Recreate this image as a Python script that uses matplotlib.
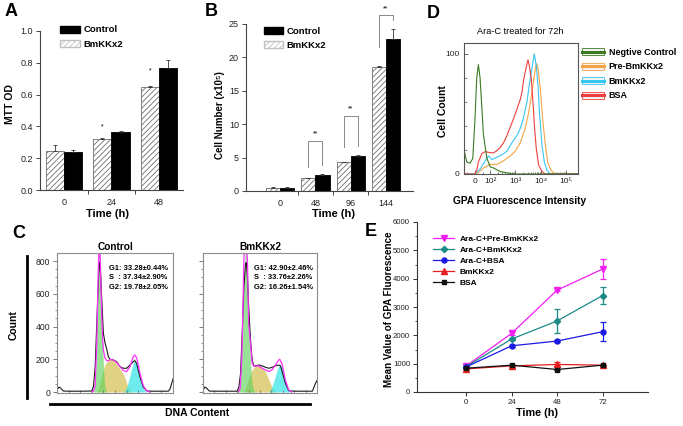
import matplotlib
matplotlib.use('Agg')
import matplotlib.pyplot as plt
import numpy as np
from matplotlib.patches import Patch
from matplotlib.lines import Line2D
from matplotlib.ticker import FixedLocator, MultipleLocator, FormatStrFormatter, NullFormatter

plt.rcParams['font.family'] = ['Liberation Sans', 'DejaVu Sans']
plt.rcParams['hatch.linewidth'] = 0.6
plt.rcParams['axes.linewidth'] = 0.8

# ---------------- data ----------------
# Panel A (MTT OD)
a_times = ['0', '24', '48']
a_bm = [0.245, 0.32, 0.65]
a_bm_err = [0.035, 0.004, 0.005]
a_ctrl = [0.24, 0.365, 0.765]
a_ctrl_err = [0.01, 0.006, 0.05]
a_star_y = [None, 0.40, 0.75]

# Panel B (cell number)
b_times = ['0', '48', '96', '144']
b_bm = [0.5, 1.9, 4.3, 18.5]
b_bm_err = [0.05, 0.1, 0.1, 0.25]
b_ctrl = [0.5, 2.4, 5.3, 22.8]
b_ctrl_err = [0.05, 0.12, 0.1, 1.5]
b_sig_groups = [1, 2, 3]
b_sig_top = [7.5, 11.3, 26.3]
b_sig_left_bottom = [3.6, 6.6, 21.6]
b_sig_right_bottom = [3.9, 6.8, 25.6]

# Panel C (cell cycle histograms), x = DNA content channel, y = count
c1_black_x = [0, 15, 30, 55, 100, 200, 300, 314, 329, 343, 357, 366, 371, 377, 386, 400, 414, 429, 443, 457,
              486, 514, 543, 571, 600, 629, 657, 671, 686, 714, 743, 771, 800, 900, 960, 975, 994, 1000]
c1_black_y = [10, 30, 25, 6, 5, 5, 6, 32, 155, 420, 685, 790, 790, 700, 562, 358, 300, 260, 216, 200,
              196, 185, 155, 145, 145, 165, 185, 192, 175, 95, 32, 8, 5, 5, 5, 20, 65, 80]
c1_fit_x = [300, 314, 329, 343, 350, 357, 362, 370, 377, 386, 393, 400, 414, 429, 443, 457, 486, 514, 543,
            571, 600, 629, 657, 671, 686, 700, 714, 743, 771, 800]
c1_fit_y = [0, 5, 40, 300, 550, 780, 900, 900, 700, 460, 330, 257, 206, 192, 192, 198, 196, 180, 155,
            131, 125, 155, 216, 226, 210, 170, 118, 40, 8, 0]
c1_g1_x = [314, 329, 336, 343, 350, 357, 364, 371, 378, 386, 393, 400, 407, 414, 429]
c1_g1_y = [0, 60, 180, 380, 600, 800, 880, 870, 720, 500, 300, 160, 70, 25, 0]
c1_s_x = [343, 357, 371, 386, 400, 414, 429, 443, 457, 471, 486, 500, 514, 529, 543, 557, 571, 586, 600, 614, 629, 643]
c1_s_y = [0, 20, 55, 100, 140, 170, 185, 195, 198, 197, 192, 183, 170, 155, 140, 125, 110, 85, 55, 25, 5, 0]
c1_g2_x = [571, 586, 600, 614, 629, 643, 657, 671, 686, 700, 714, 729, 743, 757, 771]
c1_g2_y = [0, 10, 30, 60, 100, 140, 175, 192, 180, 145, 100, 55, 25, 8, 0]

c2_black_x = [0, 15, 30, 55, 100, 200, 300, 315, 329, 344, 359, 373, 380, 388, 402, 417, 431, 446, 461, 490,
              519, 548, 577, 606, 636, 665, 680, 694, 723, 752, 800, 900, 960, 985, 1000]
c2_black_y = [10, 30, 25, 6, 5, 5, 5, 32, 110, 358, 643, 785, 790, 725, 500, 317, 196, 160, 160, 165,
              160, 151, 145, 151, 160, 165, 160, 125, 53, 8, 5, 5, 5, 50, 70]
c2_fit_x = [310, 325, 340, 350, 358, 366, 380, 390, 400, 417, 431, 446, 490, 519, 548, 577, 606, 636, 665,
            673, 694, 723, 752, 780]
c2_fit_y = [0, 20, 200, 500, 800, 900, 900, 800, 420, 293, 177, 157, 160, 145, 135, 125, 135, 165, 196,
            200, 171, 73, 12, 0]
c2_g1_x = [300, 315, 329, 344, 359, 366, 373, 381, 388, 395, 402, 410, 417, 424, 431, 446, 461]
c2_g1_y = [0, 30, 100, 330, 640, 800, 880, 880, 800, 640, 480, 320, 190, 100, 45, 10, 0]
c2_s_x = [359, 373, 388, 402, 417, 431, 446, 461, 475, 490, 504, 519, 533, 548, 563, 577, 592, 606, 621, 636, 650]
c2_s_y = [0, 20, 50, 85, 115, 135, 150, 158, 162, 162, 158, 150, 138, 122, 100, 75, 50, 28, 12, 3, 0]
c2_g2_x = [577, 592, 606, 621, 636, 650, 665, 679, 694, 708, 723, 737, 752, 766, 781]
c2_g2_y = [0, 12, 35, 65, 100, 135, 160, 165, 150, 115, 75, 40, 15, 3, 0]

c1_stats = ['G1: 33.28\u00b10.44%', 'S  : 37.34\u00b12.90%', 'G2: 19.78\u00b12.05%']
c2_stats = ['G1: 42.90\u00b12.46%', 'S  : 33.76\u00b12.26%', 'G2: 16.26\u00b11.54%']

# Panel D (GPA flow histograms), x = fluorescence intensity, y = cell count
d_neg_x = [-73, -55, -33, -15, 0, 11, 22, 33, 45, 55, 78, 100, 135, 250, 460, 820, 3900, 300000]
d_neg_y = [20, 10, 9, 13, 47, 80, 91, 80, 55, 33, 13, 6, 5, 2, 1, 0, 0, 0]
d_bsa_x = [-73, 0, 11, 22, 45, 67, 89, 135, 184, 249, 337, 460, 622, 841, 1148, 1550, 1811, 2096, 2612, 3133,
           3631, 4238, 4947, 5728, 6686, 8260, 11270, 15240, 300000]
d_bsa_y = [0, 0, 3, 10, 17, 18.6, 18, 17.5, 19.5, 22, 26, 32, 39, 46, 54, 62, 68, 78, 88, 95,
           89, 79, 60, 38, 21, 7.5, 2, 0, 0]
d_bm_x = [-73, 0, 33, 67, 89, 117, 184, 291, 460, 726, 1148, 1550, 2096, 2860, 3631, 4519, 5572, 6686, 7814,
          9040, 11270, 13900, 17780, 24040, 300000]
d_bm_y = [0, 0, 4, 11, 15, 12, 14, 16, 19, 26, 32, 38, 47, 60, 76, 88, 100, 90, 74,
          49, 24, 10, 3, 0, 0]
d_pre_x = [-73, 11, 55, 100, 184, 337, 622, 982, 1550, 2447, 3311, 4519, 5572, 6686, 7814, 9640, 11890, 15240,
           18790, 25650, 37950, 300000]
d_pre_y = [0, 0, 5, 8, 8, 11, 15, 19, 26, 38, 51, 68, 82, 92, 88, 71, 46, 24,
           10, 3, 0, 0]
d_labels = ['Negtive Control', 'Pre-BmKKx2', 'BmKKx2', 'BSA']
d_colors = ['#3d7a1f', '#f5a445', '#36c6f2', '#ee3f3f']

# Panel E (mean GPA fluorescence)
e_times = [0, 24, 48, 72]
e_labels = ['Ara-C+Pre-BmKKx2', 'Ara-C+BmKKx2', 'Ara-C+BSA', 'BmKKx2', 'BSA']
e_pre = [920, 2070, 3595, 4340]
e_pre_err = [40, 50, 40, 355]
e_bm_arac = [900, 1870, 2507, 3404]
e_bm_arac_err = [40, 40, 440, 290]
e_bsa_arac = [887, 1631, 1798, 2128]
e_bsa_arac_err = [30, 30, 30, 330]
e_bm = [816, 922, 972, 947]
e_bm_err = [20, 30, 70, 30]
e_bsa = [840, 947, 794, 947]
e_bsa_err = [20, 20, 20, 20]

# ---------------- figure ----------------
W, H = 683, 426
fig = plt.figure(figsize=(W / 100, H / 100), dpi=100)


def axes_px(x0, y0, x1, y1):
    return fig.add_axes([x0 / W, 1 - y1 / H, (x1 - x0) / W, (y1 - y0) / H])


def ftext(x, y, s, **kw):
    kw.setdefault('ha', 'center')
    kw.setdefault('va', 'center')
    fig.text(x / W, 1 - y / H, s, **kw)


TICKC = '#222222'
HATCH_EDGE = '#6e6e6e'
err_kw = dict(ecolor='#333333', elinewidth=0.6, capsize=1.5, capthick=0.6)


def bar_panel(ax, cats, bm, bm_err, ctrl, ctrl_err, w):
    x = np.arange(len(cats))
    ax.bar(x - w / 2, bm, w, color='white', edgecolor=HATCH_EDGE, hatch='//////', lw=0.6,
           yerr=[np.zeros(len(cats)), bm_err], error_kw=err_kw, label='BmKKx2')
    ax.bar(x + w / 2, ctrl, w, color='black', edgecolor='black', lw=0.6,
           yerr=[np.zeros(len(cats)), ctrl_err], error_kw=err_kw, label='Control')
    for s in ['top', 'right']:
        ax.spines[s].set_visible(False)
    for s in ['left', 'bottom']:
        ax.spines[s].set_color('#444444')
    ax.set_xticks(x)
    ax.set_xticklabels(cats)
    ax.tick_params(axis='x', which='major', length=0, pad=6, labelsize=6.5, labelcolor=TICKC)
    ax.xaxis.set_minor_locator(FixedLocator(x[:-1] + 0.5))
    ax.tick_params(axis='x', which='minor', length=3, width=0.7, color='#444444')
    ax.tick_params(axis='y', which='major', length=3, width=0.7, labelsize=6.5, labelcolor=TICKC,
                   color='#444444', pad=2)
    handles = [Patch(facecolor='black', edgecolor='black'),
               Patch(facecolor='white', edgecolor='#c0c0c0', hatch='//////')]
    return handles


# ---- Panel A ----
axA = axes_px(40, 31, 183, 190)
hA = bar_panel(axA, a_times, a_bm, a_bm_err, a_ctrl, a_ctrl_err, 0.38)
axA.set_xlim(-0.5, 2.5)
axA.set_ylim(0, 1.0)
axA.yaxis.set_major_locator(MultipleLocator(0.2))
axA.yaxis.set_major_formatter(FormatStrFormatter('%.1f'))
for i, ys in enumerate(a_star_y):
    if ys is not None:
        axA.text(i - 0.19, ys, '*', ha='center', va='center', fontsize=5)
axA.legend(hA, ['Control', 'BmKKx2'], loc='upper left', bbox_to_anchor=(0.14, 1.035), frameon=False,
           borderaxespad=0, borderpad=0, handlelength=2.1, handleheight=0.75, handletextpad=0.35,
           labelspacing=0.6, prop=dict(weight='bold', size=6.8))
ftext(10, 104, 'MTT OD', rotation=90, fontsize=7.5, fontweight='bold')
ftext(107, 214, 'Time (h)', fontsize=8, fontweight='bold')
ftext(11, 12, 'A', fontsize=13, fontweight='bold')

# ---- Panel B ----
axB = axes_px(246, 24, 413, 191)
hB = bar_panel(axB, b_times, b_bm, b_bm_err, b_ctrl, b_ctrl_err, 0.4)
axB.set_xlim(-0.97, 3.77)
axB.set_ylim(0, 25)
axB.yaxis.set_major_locator(MultipleLocator(5))
for g, top, lb, rb in zip(b_sig_groups, b_sig_top, b_sig_left_bottom, b_sig_right_bottom):
    axB.plot([g - 0.2, g - 0.2, g + 0.2, g + 0.2], [lb, top, top, rb], color='#8a8a8a', lw=0.7,
             clip_on=False)
    axB.text(g, top + 0.5, '**', ha='center', va='bottom', fontsize=5, clip_on=False)
axB.legend(hB, ['Control', 'BmKKx2'], loc='upper left', bbox_to_anchor=(0.105, 0.985), frameon=False,
           borderaxespad=0, borderpad=0, handlelength=2.1, handleheight=0.75, handletextpad=0.35,
           labelspacing=0.55, prop=dict(weight='bold', size=6.8))
ftext(220, 115, 'Cell Number (x10\u2075)', rotation=90, fontsize=7, fontweight='bold')
ftext(334, 214, 'Time (h)', fontsize=8, fontweight='bold')
ftext(211, 12, 'B', fontsize=13, fontweight='bold')

# ---- Panel C ----
def cycle_panel(ax, bx, by, fx, fy, g1x, g1y, sx, sy, g2x, g2y, stats, title, show_labels):
    ax.fill_between(sx, sy, color='#d6c25a', alpha=0.75, lw=0)
    ax.fill_between(g1x, g1y, color='#5fd35f', alpha=0.65, lw=0)
    ax.fill_between(g2x, g2y, color='#2fe3e6', alpha=0.7, lw=0)
    ax.plot(bx, by, color='#1a1a1a', lw=0.8)
    ax.plot(fx, fy, color='#ff30ff', lw=0.9)
    ax.set_xlim(0, 1000)
    ax.set_ylim(-6, 849)
    for s in ax.spines.values():
        s.set_color('#8c8c8c')
        s.set_linewidth(0.8)
    ax.yaxis.set_major_locator(MultipleLocator(200))
    ax.yaxis.set_minor_locator(MultipleLocator(50))
    ax.xaxis.set_major_locator(MultipleLocator(300))
    ax.xaxis.set_minor_locator(MultipleLocator(100))
    ax.tick_params(axis='y', which='major', length=3, width=0.6, color='#666666', labelsize=6.2,
                   labelcolor=TICKC, pad=2)
    ax.tick_params(axis='y', which='minor', length=1.8, width=0.5, color='#666666')
    ax.tick_params(axis='x', which='both', direction='in', length=2, width=0.5, color='#666666',
                   labelbottom=False)
    if not show_labels:
        ax.tick_params(axis='y', labelleft=False)
    for i, s in enumerate(stats):
        ax.text(0.445, 0.89 - i * 0.068, s, transform=ax.transAxes, fontsize=5.4, fontweight='bold',
                ha='left', va='center')
    ax.set_title(title, fontsize=7.3, fontweight='bold', pad=2.5)


axC1 = axes_px(57, 253, 173, 393)
cycle_panel(axC1, c1_black_x, c1_black_y, c1_fit_x, c1_fit_y, c1_g1_x, c1_g1_y, c1_s_x, c1_s_y,
            c1_g2_x, c1_g2_y, c1_stats, 'Control', True)
axC2 = axes_px(203, 253, 317, 393)
cycle_panel(axC2, c2_black_x, c2_black_y, c2_fit_x, c2_fit_y, c2_g1_x, c2_g1_y, c2_s_x, c2_s_y,
            c2_g2_x, c2_g2_y, c2_stats, 'BmKKx2', False)
fig.add_artist(Line2D([27 / W, 27 / W], [1 - 256 / H, 1 - 398 / H], color='black', lw=2))
fig.add_artist(Line2D([50 / W, 310 / W], [1 - 404 / H, 1 - 404 / H], color='black', lw=2))
ftext(14, 325, 'Count', rotation=90, fontsize=7.5, fontweight='bold')
ftext(197, 413, 'DNA Content', fontsize=7.5, fontweight='bold')
ftext(19, 233, 'C', fontsize=13, fontweight='bold')

# ---- Panel D ----
axD = axes_px(464, 43, 578, 174)
axD.set_xscale('symlog', linthresh=100, linscale=0.54)
d_series = [(d_neg_x, d_neg_y), (d_pre_x, d_pre_y), (d_bm_x, d_bm_y), (d_bsa_x, d_bsa_y)]
order = [1, 2, 3, 0]
for i in order:
    xs, ys = d_series[i]
    axD.plot(xs, ys, color=d_colors[i], lw=0.8)
axD.set_xlim(-73, 3e5)
axD.set_ylim(0, 109)
for s in axD.spines.values():
    s.set_color('#555555')
    s.set_linewidth(0.8)
axD.set_xticks([0, 1e2, 1e3, 1e4, 1e5])
axD.set_xticklabels(['0', '10\u00b2', '10\u00b3', '10\u2074', '10\u2075'])
minors = [v * 10 ** e for e in (2, 3, 4) for v in range(2, 10)] + [-50, 50]
axD.xaxis.set_minor_locator(FixedLocator(minors))
axD.xaxis.set_minor_formatter(NullFormatter())
axD.set_yticks([0, 100])
axD.yaxis.set_minor_locator(MultipleLocator(20))
axD.tick_params(axis='both', which='major', direction='in', length=3, width=0.6, color='#555555',
                labelsize=6, labelcolor=TICKC, pad=3)
axD.tick_params(axis='both', which='minor', direction='in', length=1.8, width=0.5, color='#555555')
d_handles = [(Patch(facecolor='#f4f4f4', edgecolor=c, lw=0.6), Line2D([], [], color=c, lw=2.2))
             for c in d_colors]
fig.legend(d_handles, d_labels, loc='upper left', bbox_to_anchor=(582 / W, 1 - 48 / H), frameon=False,
           borderaxespad=0, borderpad=0, handlelength=2.4, handleheight=0.8, handletextpad=0.55,
           labelspacing=0.6, prop=dict(weight='bold', size=6.5))
ftext(520, 31, 'Ara-C treated for 72h', fontsize=6.6)
ftext(443, 111, 'Cell Count', rotation=90, fontsize=7.5, fontweight='bold')
ftext(520, 201, 'GPA Fluorescence Intensity', fontsize=7.3, fontweight='bold')
ftext(433, 13, 'D', fontsize=13, fontweight='bold')

# ---- Panel E ----
axE = axes_px(417, 222, 648, 392)
e_series = [(e_pre, e_pre_err, '#f21ef2', 'v', 4.2),
            (e_bm_arac, e_bm_arac_err, '#1c8a86', 'D', 3.2),
            (e_bsa_arac, e_bsa_arac_err, '#1a1ae6', 'o', 3.6),
            (e_bm, e_bm_err, '#e81e1e', '^', 4.0),
            (e_bsa, e_bsa_err, '#111111', 's', 3.4)]
for (vals, errs, col, mk, ms), lab in zip(e_series, e_labels):
    axE.errorbar(e_times, vals, yerr=errs, color=col, marker=mk, ms=ms, lw=0.9, elinewidth=0.9,
                 capsize=2.2, capthick=0.9, label=lab)
axE.set_xlim(-26, 96)
axE.set_ylim(0, 6000)
axE.set_xticks(e_times)
axE.yaxis.set_major_locator(MultipleLocator(1000))
axE.yaxis.set_minor_locator(MultipleLocator(500))
for s in ['top', 'right']:
    axE.spines[s].set_visible(False)
for s in ['left', 'bottom']:
    axE.spines[s].set_color('#333333')
axE.tick_params(axis='both', which='major', length=3, width=0.7, labelsize=5.6, labelcolor=TICKC,
                color='#333333', pad=2)
axE.tick_params(axis='y', which='minor', length=1.8, width=0.6, color='#333333')
axE.legend(handles=[Line2D([], [], color=c, marker=m, ms=ms, lw=0.9) for (_, _, c, m, ms) in e_series],
           labels=e_labels, loc='upper left', bbox_to_anchor=(0.068, 0.925), frameon=False, borderaxespad=0,
           borderpad=0, handlelength=2.6, handletextpad=0.6, labelspacing=0.4,
           prop=dict(weight='bold', size=6))
ftext(389, 309, 'Mean Value of GPA Fluorescence', rotation=90, fontsize=7.1, fontweight='bold')
ftext(537, 413, 'Time (h)', fontsize=7.8, fontweight='bold')
ftext(371, 232, 'E', fontsize=13, fontweight='bold')

fig.savefig('out.png', dpi=100)
